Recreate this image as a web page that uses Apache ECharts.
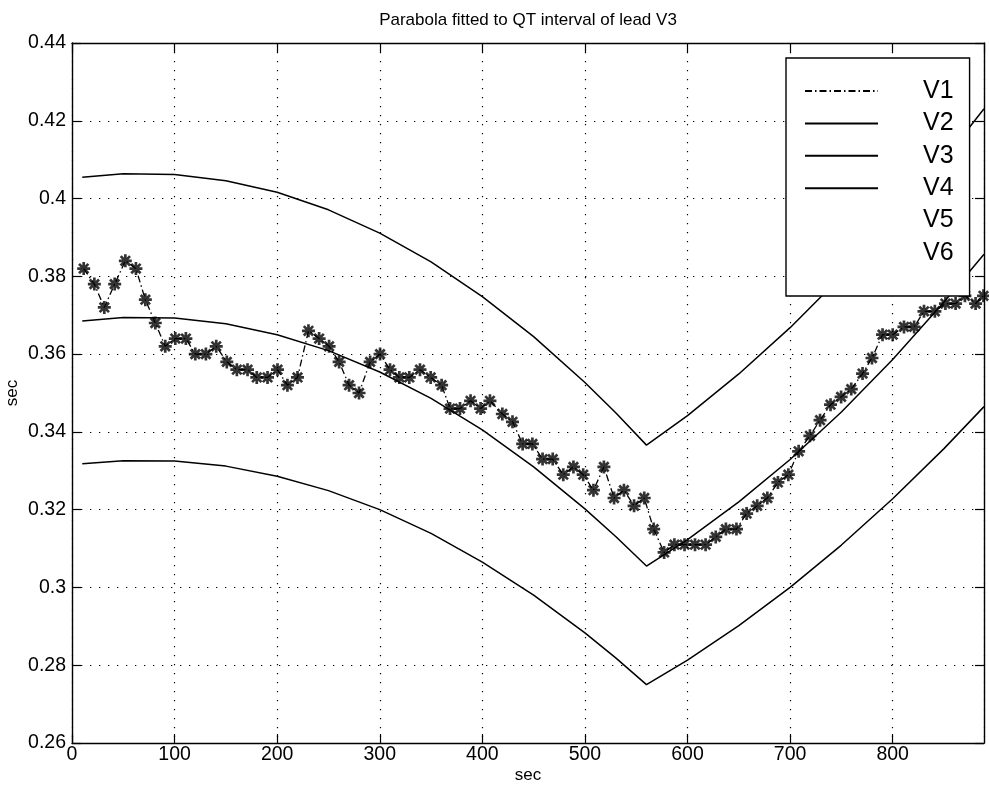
<!DOCTYPE html>
<html><head><meta charset="utf-8">
<script src="https://cdn.jsdelivr.net/npm/echarts@6/dist/echarts.min.js"></script>
<style>html,body{margin:0;padding:0;background:#fff}#c{width:989px;height:790px}</style>
</head><body><div id="c"></div>
<script>
// Measured QT interval of lead V3 (sec) vs time (sec)
const qtTime = [11.4,21.8,31.5,41.6,52.0,62.3,71.5,81.2,90.9,100.7,111.0,120.2,130.5,140.6,150.9,160.7,171.1,180.1,190.6,200.3,
  210.0,219.8,230.5,240.9,250.6,260.4,270.1,279.8,290.6,300.3,310.0,319.1,328.8,339.2,349.6,360.3,368.5,378.2,388.5,398.3,
  407.4,419.5,429.4,439.3,448.8,458.7,468.6,478.9,488.8,498.3,508.3,518.5,528.4,538.0,547.9,557.8,567.0,577.2,587.2,597.1,
  607.3,617.6,627.5,637.4,647.7,657.6,667.9,677.8,688.1,698.3,708.3,719.3,729.2,739.4,749.7,759.6,770.6,779.8,790.1,800.0,
  811.0,820.9,830.5,841.1,851.4,861.3,870.4,880.8,888.5];
const qtValue = [0.382,0.378,0.372,0.378,0.384,0.382,0.374,0.368,0.362,0.364,0.364,0.360,0.360,0.362,0.358,0.356,0.356,0.354,0.354,0.356,
  0.352,0.354,0.366,0.364,0.362,0.358,0.352,0.350,0.358,0.360,0.356,0.354,0.354,0.356,0.354,0.352,0.346,0.346,0.348,0.346,
  0.348,0.3446,0.3426,0.3369,0.3369,0.333,0.333,0.329,0.331,0.329,0.325,0.331,0.323,0.325,0.321,0.323,0.315,0.309,0.311,0.311,
  0.311,0.311,0.313,0.315,0.315,0.319,0.321,0.323,0.327,0.329,0.335,0.339,0.343,0.347,0.349,0.351,0.355,0.359,0.365,0.365,
  0.367,0.367,0.371,0.371,0.373,0.373,0.375,0.373,0.375];
// Fitted parabola and its band
const fitTime   = [10,50,100,150,200,250,300,350,400,450,500,530,560,600,650,700,750,800,850,889];
const fitUpper  = [0.4055,0.4064,0.4062,0.4046,0.4016,0.3971,0.3911,0.3837,0.3748,0.3645,0.3527,0.3449,0.3366,0.3442,0.3549,0.3668,0.3800,0.3944,0.4100,0.4231];
const fitMiddle = [0.3685,0.3694,0.3693,0.3678,0.3650,0.3609,0.3554,0.3486,0.3405,0.3310,0.3202,0.3131,0.3055,0.3123,0.3220,0.3329,0.3451,0.3586,0.3734,0.3857];
const fitLower  = [0.3318,0.3326,0.3325,0.3312,0.3286,0.3249,0.3200,0.3139,0.3065,0.2980,0.2883,0.2819,0.2750,0.2813,0.2902,0.3000,0.3109,0.3228,0.3357,0.3465];
const xTickLabels = ['0','100','200','300','400','500','600','700','800'];
const yTickLabels = ['0.26','0.28','0.3','0.32','0.34','0.36','0.38','0.4','0.42','0.44'];
const legendNames = ['V1','V2','V3','V4','V5','V6'];

const FONT = "'Liberation Sans', Arial, Helvetica, sans-serif";
const zip = (a, b) => a.map((v, i) => [v, b[i]]);
const chart = echarts.init(document.getElementById('c'), null, {renderer: 'canvas'});

const axisLineStyle = {color: '#000', width: 1.4};
const xFmt = v => { const i = Math.round(v / 100); return (Math.abs(v - i * 100) < 1e-6 && xTickLabels[i] !== undefined) ? xTickLabels[i] : ''; };
const yFmt = v => { const i = Math.round((v - 0.26) / 0.02); return yTickLabels[i] !== undefined ? yTickLabels[i] : ''; };

const solid = {color: '#000', width: 1.5, type: 'solid'};
const star = 'path://M-5,0L5,0M0,-5L0,5M-3.6,-3.6L3.6,3.6M-3.6,3.6L3.6,-3.6';

chart.setOption({
  animation: false,
  backgroundColor: '#fff',
  color: ['#000'],
  grid: {left: 72, right: 5, top: 43, bottom: 47, containLabel: false, outerBoundsMode: 'none'},
  xAxis: [{
    type: 'value', min: 0, max: 889, interval: 100, position: 'bottom',
    name: 'sec', nameLocation: 'middle', nameGap: 24, nameMoveOverlap: false,
    nameTextStyle: {fontFamily: FONT, fontSize: 17, color: '#000'},
    axisLine: {show: true, onZero: false, lineStyle: axisLineStyle},
    axisTick: {show: true, inside: true, length: 9, lineStyle: {color: '#000', width: 1.2}},
    axisLabel: {formatter: xFmt, showMaxLabel: false, margin: 2, fontFamily: FONT, fontSize: 19.5, color: '#000'},
    splitLine: {show: true, lineStyle: {color: '#000', width: 1.2, type: [1.3, 7.7]}}
  }, {
    type: 'value', min: 0, max: 889, interval: 100, position: 'top',
    name: 'Parabola fitted to QT interval of lead V3', nameLocation: 'middle', nameGap: 14,
    nameTextStyle: {fontFamily: FONT, fontSize: 17, color: '#000'},
    axisLine: {show: true, onZero: false, lineStyle: axisLineStyle},
    axisTick: {show: true, inside: true, length: 9, lineStyle: {color: '#000', width: 1.2}},
    axisLabel: {show: false}, splitLine: {show: false}
  }],
  yAxis: [{
    type: 'value', min: 0.26, max: 0.44, interval: 0.02, position: 'left',
    name: 'sec', nameLocation: 'middle', nameGap: 51, nameRotate: 90, nameMoveOverlap: false,
    nameTextStyle: {fontFamily: FONT, fontSize: 17, color: '#000'},
    axisLine: {show: true, onZero: false, lineStyle: axisLineStyle},
    axisTick: {show: true, inside: true, length: 9, lineStyle: {color: '#000', width: 1.2}},
    axisLabel: {formatter: yFmt, margin: 6, fontFamily: FONT, fontSize: 19.5, color: '#000'},
    splitLine: {show: true, lineStyle: {color: '#000', width: 1.2, type: [1.3, 7.7]}}
  }, {
    type: 'value', min: 0.26, max: 0.44, interval: 0.02, position: 'right',
    axisLine: {show: true, onZero: false, lineStyle: axisLineStyle},
    axisTick: {show: true, inside: true, length: 9, lineStyle: {color: '#000', width: 1.2}},
    axisLabel: {show: false}, splitLine: {show: false}
  }],
  legend: {
    orient: 'vertical', left: 786, top: 58,
    data: legendNames.map((n, i) => i < 4 ? {name: n} : {name: n, icon: 'rect', itemStyle: {opacity: 0}, lineStyle: {opacity: 0}}),
    selectedMode: false,
    itemWidth: 73, itemHeight: 12, itemGap: 6.4,
    itemStyle: {opacity: 0},
    padding: [20, 16, 30, 18],
    backgroundColor: '#fff', borderColor: '#000', borderWidth: 1.4, borderRadius: 0,
    textStyle: {fontFamily: FONT, fontSize: 25, lineHeight: 26, color: '#000', padding: [0, 0, 0, 40]}
  },
  series: [
    {name: 'V1', type: 'line', data: zip(qtTime, qtValue), symbol: 'none', showSymbol: false, itemStyle: {color: '#000'},
     lineStyle: {color: '#000', width: 1.3, type: [7, 3, 1.5, 3]}, z: 2},
    {name: 'V2', type: 'line', data: zip(fitTime, fitUpper), symbol: 'none', showSymbol: false, itemStyle: {color: '#000'}, lineStyle: solid, z: 2},
    {name: 'V3', type: 'line', data: zip(fitTime, fitMiddle), symbol: 'none', showSymbol: false, itemStyle: {color: '#000'}, lineStyle: solid, z: 2},
    {name: 'V4', type: 'line', data: zip(fitTime, fitLower), symbol: 'none', showSymbol: false, itemStyle: {color: '#000'}, lineStyle: solid, z: 2},
    {name: 'V5', type: 'line', data: [], symbol: 'none', itemStyle: {color: '#000'}, lineStyle: {opacity: 0}},
    {name: 'V6', type: 'line', data: [], symbol: 'none', itemStyle: {color: '#000'}, lineStyle: {opacity: 0}},
    {name: 'QT', type: 'scatter', data: zip(qtTime, qtValue), symbol: star, symbolSize: 13,
     itemStyle: {color: 'transparent', borderColor: '#000', borderWidth: 2.7}, z: 3, silent: true}
  ]
});
</script></body></html>
